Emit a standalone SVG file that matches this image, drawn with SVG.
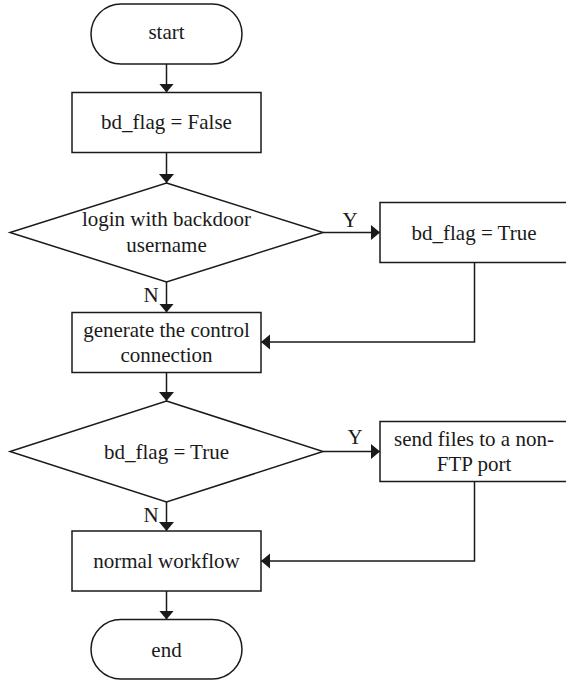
<svg xmlns="http://www.w3.org/2000/svg" width="566" height="680" viewBox="0 0 566 680">
  <style>
    .shape { fill: #ffffff; stroke: #1a1a1a; stroke-width: 1.5; }
    .edge { fill: none; stroke: #1a1a1a; stroke-width: 1.5; }
    text { font-family: "Liberation Serif", "Times New Roman", serif; font-size: 21px; fill: #1a1a1a; text-anchor: middle; }
  </style>
  <defs>
    <marker id="arrow" markerUnits="userSpaceOnUse" markerWidth="10" markerHeight="16" refX="9" refY="7.5" orient="auto">
      <path d="M0,0 L9,7.5 L0,15 z" fill="#1a1a1a"/>
    </marker>
  </defs>
  <rect width="566" height="680" fill="#ffffff"/>

  <g id="connectors">
    <path class="edge" d="M166.5,64 V92.5" marker-end="url(#arrow)"/>
    <path class="edge" d="M166.5,152.5 V183" marker-end="url(#arrow)"/>
    <path class="edge" d="M323,232.5 H380" marker-end="url(#arrow)"/>
    <path class="edge" d="M166.5,282 V312.5" marker-end="url(#arrow)"/>
    <path class="edge" d="M474.5,262.5 V342 H261" marker-end="url(#arrow)"/>
    <path class="edge" d="M166.5,372.5 V401" marker-end="url(#arrow)"/>
    <path class="edge" d="M323,451.5 H380" marker-end="url(#arrow)"/>
    <path class="edge" d="M166.5,502 V531" marker-end="url(#arrow)"/>
    <path class="edge" d="M474.5,481.5 V561 H261" marker-end="url(#arrow)"/>
    <path class="edge" d="M166.5,591 V619.5" marker-end="url(#arrow)"/>
    <text x="350" y="226.5">Y</text>
    <text x="151" y="301.5">N</text>
    <text x="355" y="443.5">Y</text>
    <text x="151" y="521.5">N</text>
  </g>

  <g id="start">
    <rect class="shape" x="91" y="4" width="151" height="60" rx="30" ry="30"/>
    <text x="166.5" y="39">start</text>
  </g>

  <g id="init-flag">
    <rect class="shape" x="72" y="92.5" width="189" height="60"/>
    <text x="166.5" y="129">bd_flag = False</text>
  </g>

  <g id="check-login">
    <polygon class="shape" points="166.5,183 323,232.5 166.5,282 10,232.5"/>
    <text x="166.5" y="226">login with backdoor</text>
    <text x="166.5" y="251.5">username</text>
  </g>

  <g id="set-flag">
    <rect class="shape" x="380" y="202.5" width="190" height="60"/>
    <text x="474" y="239.5">bd_flag = True</text>
  </g>

  <g id="control-connection">
    <rect class="shape" x="72" y="312.5" width="189" height="60"/>
    <text x="166.5" y="337">generate the control</text>
    <text x="166.5" y="361.5">connection</text>
  </g>

  <g id="check-flag">
    <polygon class="shape" points="166.5,401 323,451.5 166.5,502 10,451.5"/>
    <text x="166.5" y="458.5">bd_flag = True</text>
  </g>

  <g id="send-files">
    <rect class="shape" x="380" y="421.5" width="190" height="60"/>
    <text x="474" y="446">send files to a non-</text>
    <text x="474" y="471">FTP port</text>
  </g>

  <g id="normal-workflow">
    <rect class="shape" x="72" y="531" width="189" height="60"/>
    <text x="166.5" y="568">normal workflow</text>
  </g>

  <g id="end">
    <rect class="shape" x="91" y="619.5" width="151" height="59.5" rx="29.75" ry="29.75"/>
    <text x="166.5" y="657">end</text>
  </g>
</svg>
